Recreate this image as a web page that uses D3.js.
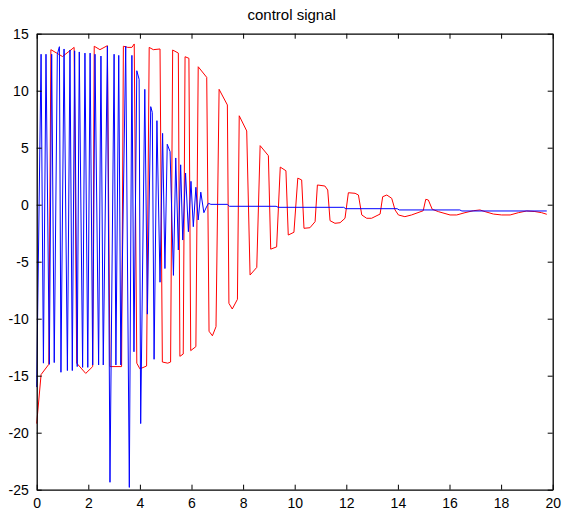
<!DOCTYPE html>
<html>
<head>
<meta charset="utf-8">
<script src="https://cdn.jsdelivr.net/npm/d3@7/dist/d3.min.js"></script>
<style>
html,body{margin:0;padding:0;background:#fff;}
svg{display:block;}
.tick text{font-family:"Liberation Sans",Arial,Helvetica,sans-serif;font-size:14px;fill:#000;}
</style>
</head>
<body>
<svg id="chart" width="572" height="517"></svg>
<script>
// ---- data ----
const titleText = "control signal";
const xTicks = [0,2,4,6,8,10,12,14,16,18,20];
const yTicks = [-25,-20,-15,-10,-5,0,5,10,15];
const xDomain = [0,20];
const yDomain = [-25,15];

const redT = [0,0.17,0.47,0.55,1.0,1.45,1.55,1.9,2.17,2.23,2.45,2.74,2.84,3.29,3.36,3.53,3.69,3.78,3.88,4.0,4.26,4.36,4.52,4.78,4.87,5.08,5.19,5.27,5.49,5.55,5.68,5.75,5.9,5.97,6.17,6.26,6.59,6.68,6.81,6.95,7.07,7.39,7.45,7.58,7.78,7.85,8.14,8.27,8.53,8.66,8.98,9.07,9.3,9.44,9.66,9.75,9.97,10.12,10.27,10.36,10.59,10.79,10.88,11.17,11.28,11.37,11.56,11.76,11.95,12.08,12.34,12.47,12.6,12.79,12.98,13.31,13.41,13.57,13.76,13.89,14.02,14.27,14.53,14.98,15.08,15.18,15.33,15.57,16.02,16.28,16.6,16.92,17.18,17.38,17.7,18.02,18.35,18.67,18.99,19.31,19.57,19.77];
const redU = [-19.2,-14.9,-14.0,13.6,13.0,13.8,-13.9,-14.8,-14.2,13.9,13.6,13.95,-14.2,-14.2,13.9,13.8,13.8,14.1,-13.9,-14.4,-14.15,13.8,13.6,13.66,-13.8,-13.9,-13.8,13.57,13.3,-13.3,-13.1,12.98,12.84,-12.8,-12.45,12.1,11.17,-11.1,-11.5,-10.7,10.12,8.75,-8.65,-9.15,-8.3,7.8,6.47,-6.17,-5.5,5.18,4.3,-3.9,-3.7,3.3,2.98,-2.66,-2.42,2.33,2.17,-2.07,-2.02,-1.49,1.73,1.64,1.29,-1.4,-1.63,-1.58,-1.19,1.05,1.0,0.85,-0.9,-1.19,-1.19,-0.82,0.7,0.85,0.56,-0.46,-0.9,-1.05,-0.9,-0.53,0.47,0.41,-0.4,-0.61,-0.9,-0.9,-0.7,-0.53,-0.46,-0.61,-0.82,-0.9,-0.9,-0.7,-0.55,-0.6,-0.7,-0.84];

const blueT = [0,0.17,0.26,0.36,0.49,0.58,0.68,0.8,0.88,0.94,1.06,1.19,1.29,1.38,1.47,1.57,1.65,1.78,1.87,1.98,2.07,2.17,2.26,2.4,2.49,2.58,2.74,2.84,3.0,3.07,3.18,3.26,3.45,3.59,3.69,3.77,3.88,3.97,4.03,4.19,4.29,4.42,4.48,4.55,4.66,4.78,4.88,4.97,5.06,5.17,5.3,5.39,5.49,5.58,5.66,5.77,5.88,5.98,6.07,6.17,6.26,6.36,6.48,6.58,6.66,6.75,7.39,7.47,9.28,9.36,11.9,11.98,13.97,14.05,16.4,16.48,19.77];
const blueU = [-16,13.2,-13.9,13.2,-14.0,13.2,-13.85,13.2,13.86,-14.7,13.66,-14.55,13.57,-14.55,13.5,-14.2,13.4,-14.27,13.3,-14.27,13.3,-14.06,13.2,-14.06,13.04,-14.06,13.9,-24.35,13.2,-14.06,13.1,-14.06,13.9,-24.8,13.1,-12.9,11.75,11.0,-19.2,10.12,-9.6,8.6,8.1,-13.56,7.37,-6.8,6.26,-5.6,5.3,4.65,-6.2,4.1,-3.97,3.5,-3.1,2.78,-2.37,2.05,-1.93,1.53,-1.34,1.1,-0.7,-0.2,0.12,0.03,0.03,-0.14,-0.14,-0.23,-0.23,-0.35,-0.35,-0.46,-0.46,-0.55,-0.55];

// ---- layout ----
const W = 572, H = 517;
const m = {left:36.7, right:W-552.7, top:33.7, bottom:H-489.7};
const svg = d3.select("#chart");

const x = d3.scaleLinear().domain(xDomain).range([m.left, W-m.right]);
const y = d3.scaleLinear().domain(yDomain).range([H-m.bottom, m.top]);

svg.append("rect").attr("x",0).attr("y",0).attr("width",W).attr("height",H).attr("fill","#fff");

const line = d3.line().x(d=>x(d[0])).y(d=>y(d[1]));
const redData = redT.map((t,i)=>[t,redU[i]]);
const blueData = blueT.map((t,i)=>[t,blueU[i]]);

svg.append("path").datum(redData).attr("d",line).attr("fill","none").attr("stroke","#ff0000").attr("stroke-width",1);
svg.append("path").datum(blueData).attr("d",line).attr("fill","none").attr("stroke","#0000ff").attr("stroke-width",1);

// axes
const tk = 5;
const gB = svg.append("g").attr("transform",`translate(0,${H-m.bottom})`)
  .call(d3.axisBottom(x).tickValues(xTicks).tickSizeInner(-tk).tickSizeOuter(0).tickPadding(8).tickFormat(d3.format("d")));
const gT = svg.append("g").attr("transform",`translate(0,${m.top})`)
  .call(d3.axisTop(x).tickValues(xTicks).tickSizeInner(-tk).tickSizeOuter(0).tickFormat(""));
const gL = svg.append("g").attr("transform",`translate(${m.left},0)`)
  .call(d3.axisLeft(y).tickValues(yTicks).tickSizeInner(-tk).tickSizeOuter(0).tickPadding(8).tickFormat(d3.format("d")));
const gR = svg.append("g").attr("transform",`translate(${W-m.right},0)`)
  .call(d3.axisRight(y).tickValues(yTicks).tickSizeInner(-tk).tickSizeOuter(0).tickFormat(""));
[gB,gT,gL,gR].forEach(g=>{
  g.selectAll(".domain").attr("stroke","#000").attr("stroke-width",1.3);
  g.selectAll(".tick line").attr("stroke","#000").attr("stroke-width",1);
});
gL.selectAll(".tick text").text(d=>d<0?"-"+Math.abs(d):d);

svg.append("text").attr("x",(m.left+W-m.right)/2-3).attr("y",20)
  .attr("text-anchor","middle")
  .style("font-family","Liberation Sans,Arial,Helvetica,sans-serif")
  .style("font-size","15px").attr("fill","#000").text(titleText);
</script>
</body>
</html>
